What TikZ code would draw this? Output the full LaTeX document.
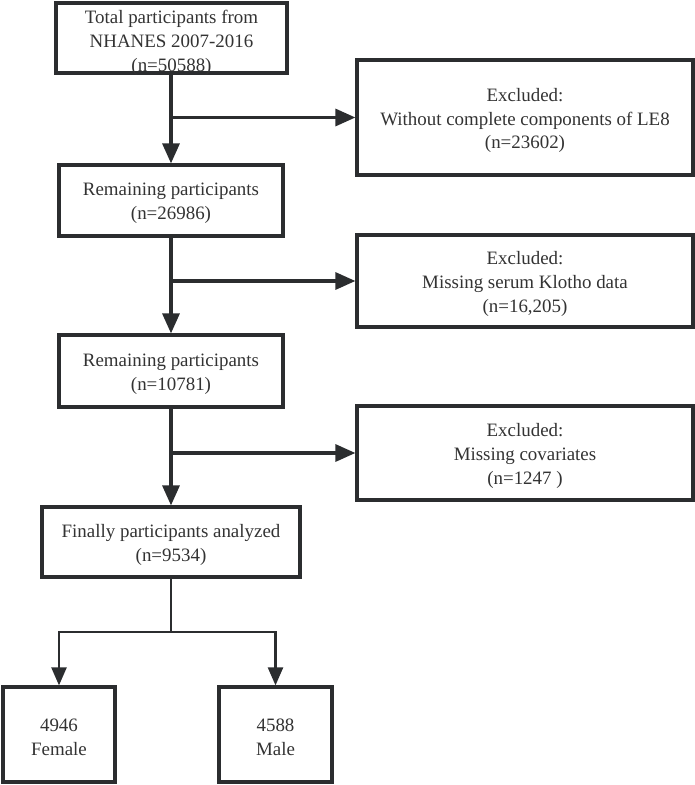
\documentclass[tikz,border=0pt]{standalone}
\usepackage{fontspec}
\setmainfont{Liberation Serif}
\usetikzlibrary{arrows.meta}
\definecolor{lineC}{HTML}{2B2D2F}
\definecolor{txtC}{HTML}{333333}
\tikzset{
  box/.style={draw=lineC, line width=3.2bp, fill=white, inner sep=0pt},
  boxtext/.style={align=center, text=txtC, font=\fontsize{19}{24}\selectfont, inner sep=0pt, yshift=-3bp},
  mainarrow/.style={draw=lineC, line width=3.2bp, -{Triangle[width=17bp,length=20bp]}},
  mainline/.style={draw=lineC, line width=3.2bp},
  thinarrow/.style={draw=lineC, line width=2.4bp, -{Triangle[width=15bp,length=18bp]}},
  thinline/.style={draw=lineC, line width=2.4bp},
}
\begin{document}
\begin{tikzpicture}[x=1bp,y=-1bp]
\useasboundingbox (0,0) rectangle (695,785);
\node[box, minimum width=231bp, minimum height=70bp, label={[boxtext,yshift=-1.5bp]center:{Total participants from\\NHANES 2007-2016\\(n=50588)}}] (b1) at (171.5,38) {};
\node[box, minimum width=224bp, minimum height=71bp, label={[boxtext]center:{Remaining participants\\(n=26986)}}] (b2) at (171,200.5) {};
\node[box, minimum width=224bp, minimum height=72bp, label={[boxtext]center:{Remaining participants\\(n=10781)}}] (b3) at (171,371) {};
\node[box, minimum width=258bp, minimum height=70bp, label={[boxtext]center:{Finally participants analyzed\\(n=9534)}}] (b4) at (171,542) {};
\node[box, minimum width=336bp, minimum height=115bp, label={[boxtext]center:{Excluded:\\Without complete components of LE8\\(n=23602)}}] (e1) at (525,117.5) {};
\node[box, minimum width=336bp, minimum height=92bp, label={[boxtext]center:{Excluded:\\Missing serum Klotho data\\(n=16,205)}}] (e2) at (525,281) {};
\node[box, minimum width=336bp, minimum height=94bp, label={[boxtext]center:{Excluded:\\Missing covariates\\(n=1247 )}}] (e3) at (525,453) {};
\node[box, minimum width=112bp, minimum height=95bp, label={[boxtext]center:{4946\\Female}}] (f) at (59,734.5) {};
\node[box, minimum width=113bp, minimum height=95bp, label={[boxtext]center:{4588\\Male}}] (m) at (275.5,734.5) {};
\coordinate (j1) at (171,117.5);
\coordinate (j2) at (171,281);
\coordinate (j3) at (171,453);
\coordinate (j4) at (171,632);
\draw[mainarrow] (j1 |- b1.south) -- (j1 |- b2.north);
\draw[mainarrow] (j1) -- (e1.west);
\draw[mainarrow] (j2 |- b2.south) -- (j2 |- b3.north);
\draw[mainarrow] (j2) -- (e2.west);
\draw[mainarrow] (j3 |- b3.south) -- (j3 |- b4.north);
\draw[mainarrow] (j3) -- (e3.west);
\draw[thinline] (j4 |- b4.south) -- (j4);
\draw[thinarrow] (j4) -| (f.north);
\draw[thinarrow] (j4) -| (m.north);
\end{tikzpicture}
\end{document}
